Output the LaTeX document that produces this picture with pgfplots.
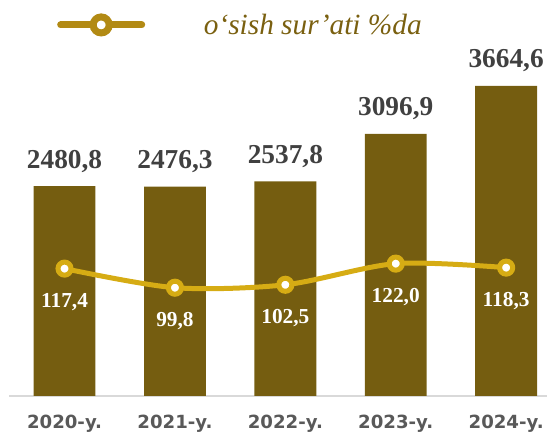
\documentclass[border=0pt]{standalone}
\usepackage{fontspec}
\setmainfont{Liberation Serif}
\newfontfamily\tickfont{DejaVu Sans}
\usepackage{pgfplots}
\pgfplotsset{compat=1.18}
\usepackage{pgfplotstable}
\definecolor{barc}{RGB}{117,93,16}
\definecolor{linec}{RGB}{214,172,20}
\definecolor{legc}{RGB}{178,138,20}
\definecolor{legtext}{RGB}{122,96,16}
\definecolor{labc}{RGB}{64,64,64}
\definecolor{tickc}{RGB}{89,89,89}
\definecolor{axl}{RGB}{217,217,217}

\pgfplotstableread{
x y lab
0 2480.8 2480,8
1 2476.3 2476,3
2 2537.8 2537,8
3 3096.9 3096,9
4 3664.6 3664,6
}\bars
\pgfplotstableread{
x y lab
0 117.4 117,4
1 99.8 99,8
2 102.5 102,5
3 122.0 122,0
4 118.3 118,3
}\growth

\begin{document}
\begin{tikzpicture}
\begin{axis}[name=ax, width=403.5pt, height=297pt, scale only axis,
  xmin=-0.503, xmax=4.37, ymin=0, ymax=4681,
  axis x line*=bottom, axis y line=none,
  x axis line style={draw=axl, line width=1.1pt, -},
  xtick={0,1,2,3,4}, xticklabels={2020-y.,2021-y.,2022-y.,2023-y.,2024-y.},
  major tick length=0pt, ytick=\empty,
  xticklabel style={font=\tickfont\bfseries\fontsize{13.6}{15}\selectfont, text=tickc, yshift=-10.5pt},
  clip=false]
\addplot[ybar, bar width=0.56, fill=barc, draw=none,
  nodes near coords, point meta=explicit symbolic,
  nodes near coords style={font=\bfseries\fontsize{20.5}{22}\selectfont, text=labc, anchor=base, yshift=13.5pt}]
  table[x=x, y=y, meta=lab]{\bars};
\end{axis}
\begin{axis}[width=403.5pt, height=297pt, scale only axis,
  xmin=-0.503, xmax=4.37, ymin=0, ymax=365, hide axis, clip=false,
  legend style={at={(rel axis cs:0.089,0.937)}, anchor=west, draw=none, fill=none, inner sep=0pt,
    font=\itshape\fontsize{22}{24}\selectfont, text=legtext},
  legend image code/.code={
    \path[draw=none, fill=none] (0pt,0pt) -- (108pt,0pt);
    \draw[line width=5.25pt, line cap=round, color=legc] (2.6pt,0pt) -- (63.4pt,0pt);
    \draw[line width=5.25pt, color=legc, fill=white] (33pt,0pt) circle (6pt);
  }]
\addplot[smooth, color=linec, line width=3.75pt,
  mark=*, mark size=4.9pt, mark options={fill=white, draw=linec, line width=3.75pt},
  nodes near coords, point meta=explicit symbolic,
  nodes near coords style={font=\bfseries\fontsize{16}{18}\selectfont, text=white, anchor=center, yshift=-24.75pt}]
  table[x=x, y=y, meta=lab]{\growth};
\addlegendentry{o‘sish sur’ati \%da}
\end{axis}
\pgfresetboundingbox
\useasboundingbox ([xshift=-6.75pt,yshift=-27.75pt]ax.south west) rectangle (ax.north east);
\end{tikzpicture}
\end{document}
